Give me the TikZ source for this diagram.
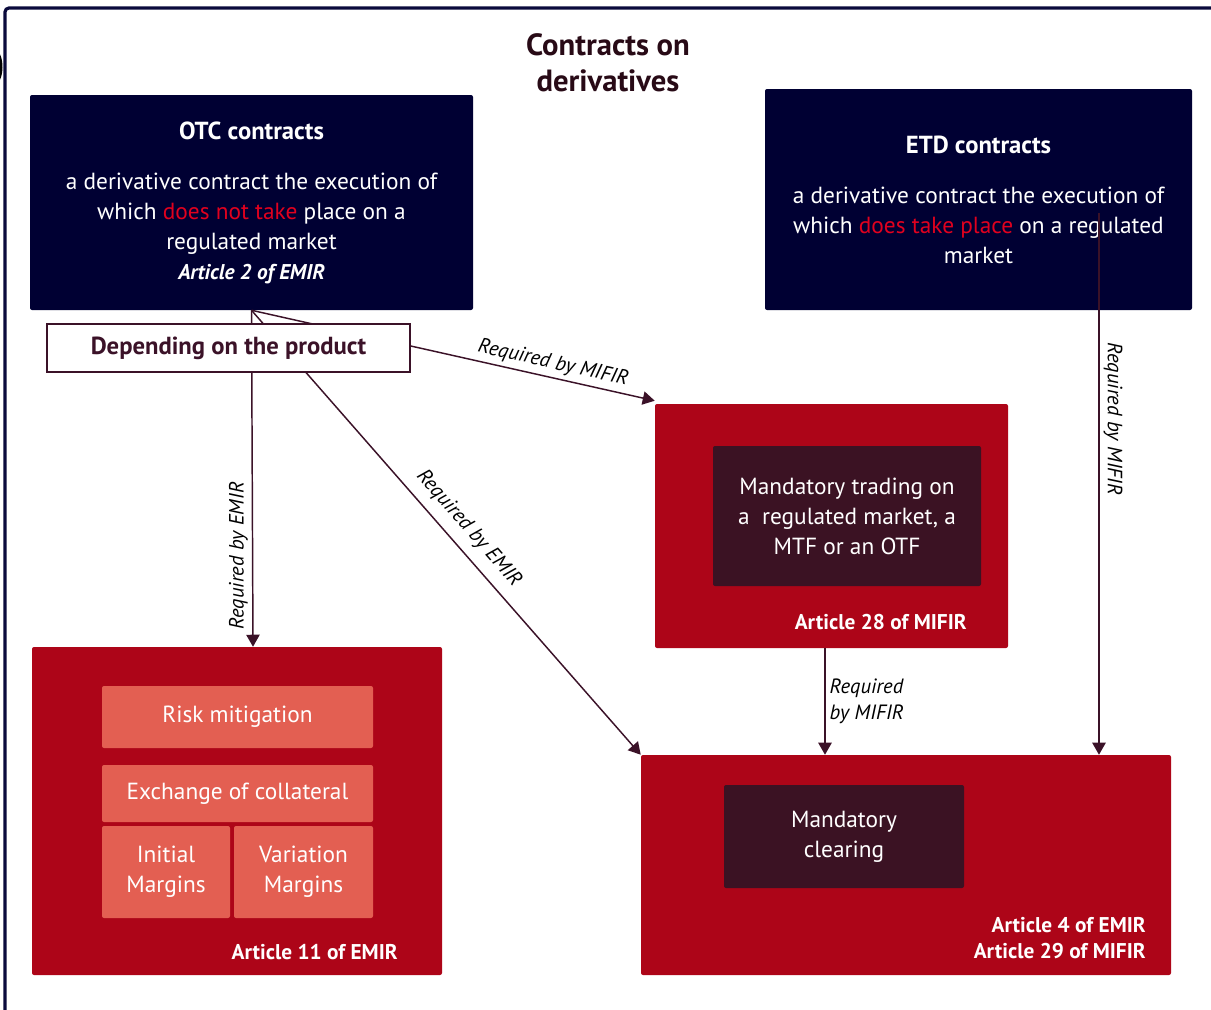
\documentclass[tikz,border=0pt]{standalone}
\usepackage{fontspec}
\setmainfont{PT Sans}
\usetikzlibrary{arrows.meta}
\definecolor{navy}{RGB}{0,0,51}
\definecolor{framenavy}{RGB}{10,10,60}
\definecolor{boxred}{RGB}{173,5,24}
\definecolor{plum}{RGB}{59,18,35}
\definecolor{salmon}{RGB}{227,95,82}
\definecolor{hilite}{RGB}{225,0,30}
\definecolor{arrowcol}{RGB}{59,18,40}
\definecolor{titlecol}{RGB}{40,10,22}
\newcommand\pxu{0.75pt}
\newcommand\bodyfont{\fontsize{17.5}{22.5}\selectfont}
\newcommand\headfont{\fontsize{18.5}{22.5}\selectfont\bfseries}
\newcommand\artfont{\fontsize{16}{19.5}\selectfont\bfseries}

\tikzset{
  navybox/.style={fill=navy, rounded corners=1.5pt, text=white, align=center, inner sep=0pt, font=\bodyfont},
  redbox/.style={fill=boxred, rounded corners=1.5pt, inner sep=0pt},
  plumbox/.style={fill=plum, rounded corners=1.5pt, text=white, align=center, inner sep=0pt, font=\bodyfont},
  salmonbox/.style={fill=salmon, rounded corners=1.5pt, text=white, align=center, inner sep=0pt, font=\bodyfont},
  article/.style={text=white, font=\artfont, anchor=east, align=right, inner sep=0pt},
  req/.style={-{Triangle[length=9pt, width=10pt]}, arrowcol, line width=1.1pt},
  reqlabel/.style={font=\fontsize{15.5}{19.5}\selectfont\itshape, text=black, inner sep=3pt}
}

\begin{document}
\begin{tikzpicture}[x=0.75pt, y=-0.75pt]
        \useasboundingbox (0,0) rectangle (1211,1010);
        \fill[black] (-6,67) ellipse (8.5 and 18);
        \draw[framenavy, line width=2.4pt, rounded corners=3pt] (5,1020) -- (5,8) -- (1220,8);
        \node[text=titlecol, align=center, font=\fontsize{23}{27}\selectfont\bfseries] (title) at (608,63) {Contracts on\\derivatives};

        \node[navybox, minimum width=443*\pxu, minimum height=215*\pxu] (otc) at (251.5,202.5)
          {{\headfont OTC contracts}\\[15.5pt] a derivative contract the execution of\\ which \textcolor{hilite}{does not take} place on a\\ regulated market\\[-0.5pt] {\fontsize{16}{19.5}\selectfont\bfseries\itshape Article 2 of EMIR}};
        \node[navybox, minimum width=427*\pxu, minimum height=221*\pxu] (etd) at (978.5,199.5)
          {{\headfont ETD contracts}\\[15pt] a derivative contract the execution of\\ which \textcolor{hilite}{does take place} on a regulated\\ market};

        \node[redbox, minimum width=353*\pxu, minimum height=244*\pxu] (trading) at (831.5,526) {};
        \node[plumbox, minimum width=268*\pxu, minimum height=140*\pxu] (tradinner) at (847,516) {Mandatory trading on\\ a\ \ regulated market, a\\ MTF or an OTF};
        \node[article] (art28) at (967,622) {Article 28 of MIFIR};

        \node[redbox, minimum width=530*\pxu, minimum height=220*\pxu] (clearing) at (906,865) {};
        \node[plumbox, minimum width=240*\pxu, minimum height=103*\pxu] (clearinner) at (844,836.5) {Mandatory\\ clearing};
        \node[article] (art4) at (1146,938) {Article 4 of EMIR\\ Article 29 of MIFIR};

        \node[redbox, minimum width=410*\pxu, minimum height=328*\pxu] (emir) at (237,811) {};
        \node[salmonbox, minimum width=271*\pxu, minimum height=62*\pxu] (risk) at (237.5,717) {Risk mitigation};
        \node[salmonbox, minimum width=271*\pxu, minimum height=57*\pxu] (collateral) at (237.5,793.5) {Exchange of collateral};
        \node[salmonbox, minimum width=128*\pxu, minimum height=92*\pxu] (initial) at (166,872) {Initial\\ Margins};
        \node[salmonbox, minimum width=139*\pxu, minimum height=92*\pxu] (variation) at (303.5,872) {Variation\\ Margins};
        \node[article] (art11) at (398,952) {Article 11 of EMIR};

        \draw[req] (otc.south) -- ([xshift=1.5*\pxu]otc.south |- emir.north)
          node[reqlabel, pos=0.73, rotate=90, anchor=south] {Required by EMIR};
        \draw[req] (otc.south) -- (clearing.north west)
          node[reqlabel, pos=0.52, sloped, above=4pt] {Required by EMIR};
        \draw[req] (otc.south) -- ([yshift=3*\pxu]trading.north west)
          node[reqlabel, pos=0.74, sloped, above] {Required by MIFIR};

        \node[draw=arrowcol, line width=1.1pt, fill=white, text=arrowcol, font=\fontsize{18.5}{22.5}\selectfont\bfseries,
          minimum width=363*\pxu, minimum height=48*\pxu, inner sep=0pt] (depend) at (228.5,348) {Depending on the product};

        \draw[req] ([xshift=-6.5*\pxu]trading.south) -- ([xshift=-6.5*\pxu]trading.south |- clearing.north)
          node[reqlabel, midway, right, align=left] {Required\\ by MIFIR};
        \coordinate (etdstart) at (1099,213);
        \draw[req] (etdstart) -- (etdstart |- clearing.north)
          node[reqlabel, pos=0.38, rotate=-90, anchor=south] {Required by MIFIR};
      \end{tikzpicture}
\end{document}
